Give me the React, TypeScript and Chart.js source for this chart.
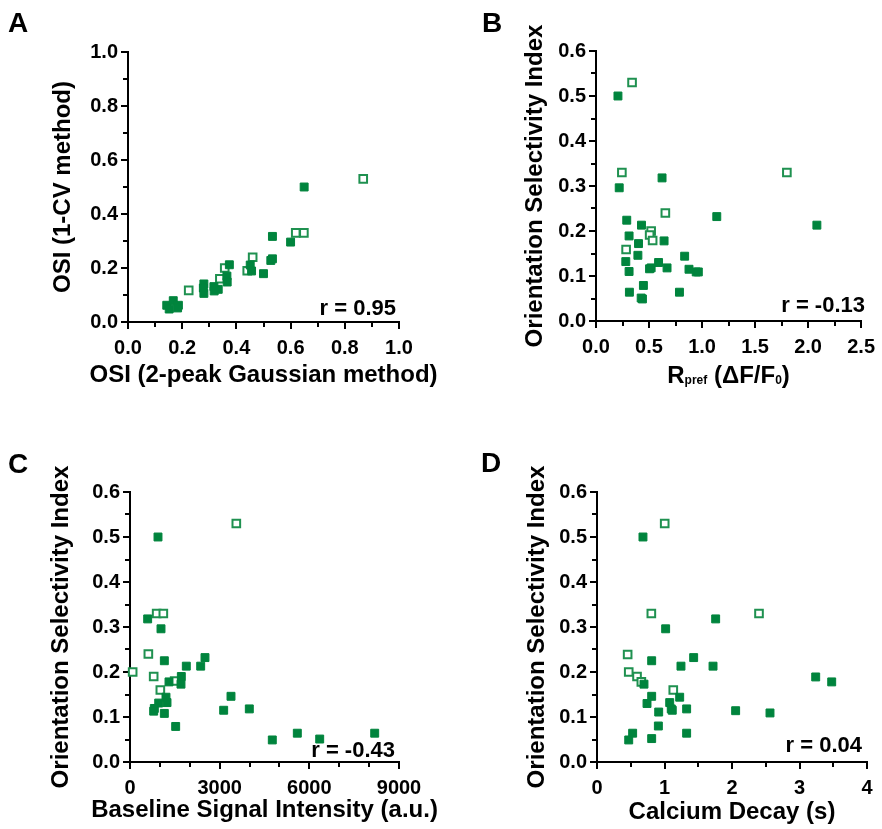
import React, { useEffect, useRef } from 'react';
import { Chart, registerables } from 'chart.js';

Chart.register(...registerables);

const FONT = '"Liberation Sans", Arial, Helvetica, sans-serif';
const GREEN = '#00843d';
const GREEN_OPEN = '#1f9150';

// ---------- Panel A ----------
const A_FILLED_X = [0.65, 0.533, 0.60, 0.527, 0.533, 0.50, 0.451, 0.456, 0.374, 0.365, 0.366, 0.333, 0.317, 0.318, 0.28, 0.278, 0.28, 0.143, 0.167, 0.186, 0.152, 0.183];
const A_FILLED_Y = [0.50, 0.317, 0.296, 0.228, 0.234, 0.179, 0.211, 0.189, 0.212, 0.170, 0.148, 0.121, 0.131, 0.115, 0.141, 0.126, 0.106, 0.062, 0.079, 0.062, 0.048, 0.052];
const A_OPEN_X = [0.868, 0.619, 0.649, 0.46, 0.44, 0.357, 0.339, 0.224];
const A_OPEN_Y = [0.53, 0.33, 0.33, 0.24, 0.19, 0.20, 0.16, 0.117];

// ---------- Panel B ----------
const B_FILLED_X = [0.207, 0.219, 0.623, 1.139, 2.083, 0.29, 0.429, 0.312, 0.401, 0.642, 0.281, 0.395, 0.312, 0.505, 0.52, 0.59, 0.67, 0.836, 0.877, 0.945, 0.965, 0.315, 0.447, 0.426, 0.438, 0.787];
const B_FILLED_Y = [0.50, 0.296, 0.318, 0.232, 0.213, 0.224, 0.213, 0.189, 0.172, 0.178, 0.132, 0.146, 0.11, 0.116, 0.118, 0.13, 0.118, 0.144, 0.115, 0.109, 0.109, 0.064, 0.079, 0.051, 0.049, 0.064];
const B_OPEN_X = [0.34, 0.244, 1.80, 0.654, 0.52, 0.506, 0.534, 0.284];
const B_OPEN_Y = [0.53, 0.33, 0.33, 0.24, 0.20, 0.191, 0.179, 0.159];

// ---------- Panel C ----------
const C_FILLED_X = [937, 591, 1037, 1149, 1884, 2365, 2509, 1717, 1706, 1305, 1204, 1238, 960, 814, 792, 1149, 1528, 3379, 3134, 3992, 4761, 5598, 6347, 8187];
const C_FILLED_Y = [0.50, 0.318, 0.296, 0.225, 0.213, 0.213, 0.232, 0.19, 0.173, 0.178, 0.144, 0.132, 0.131, 0.119, 0.113, 0.108, 0.079, 0.146, 0.115, 0.118, 0.049, 0.064, 0.051, 0.064];
const C_OPEN_X = [3557, 892, 1115, 614, 89, 792, 1494, 1015];
const C_OPEN_Y = [0.53, 0.33, 0.33, 0.24, 0.20, 0.19, 0.18, 0.16];

// ---------- Panel D ----------
const D_FILLED_X = [0.681, 1.758, 1.017, 1.432, 0.81, 1.244, 1.719, 3.24, 3.477, 0.696, 0.81, 1.225, 0.741, 1.077, 0.914, 1.1, 1.115, 1.328, 2.054, 2.563, 0.909, 0.528, 0.47, 0.81, 1.328];
const D_FILLED_Y = [0.50, 0.318, 0.296, 0.232, 0.225, 0.213, 0.213, 0.189, 0.178, 0.173, 0.146, 0.144, 0.13, 0.132, 0.111, 0.118, 0.115, 0.118, 0.114, 0.109, 0.08, 0.064, 0.049, 0.052, 0.064];
const D_OPEN_X = [1.003, 0.805, 2.4, 0.454, 0.47, 0.593, 0.657, 1.13];
const D_OPEN_Y = [0.53, 0.33, 0.33, 0.239, 0.20, 0.19, 0.178, 0.16];

// ---------- Labels ----------
const LETTERS = ['A', 'B', 'C', 'D'];
const X_TITLES = ['OSI (2-peak Gaussian method)', '', 'Baseline Signal Intensity (a.u.)', 'Calcium Decay (s)'];
const Y_TITLES = ['OSI (1-CV method)', 'Orientation Selectivity Index', 'Orientation Selectivity Index', 'Orientation Selectivity Index'];
const R_LABELS = ['r = 0.95', 'r = -0.13', 'r = -0.43', 'r = 0.04'];

const fmt1 = (v: number) => v.toFixed(1);
const fmt0 = (v: number) => String(Math.round(v));

type Axis = { min: number; max: number; step: number; minor: number; fmt: (v: number) => string };
type Panel = {
  idx: number;
  ox: number; oy: number; w: number; h: number;
  area: { l: number; t: number; r: number; b: number };
  x: Axis; y: Axis;
  yTitleX: number; xTitleBase: number;
  rRight: number; rBase: number;
  letterX: number; letterBase: number;
  filled: { x: number[]; y: number[] };
  open: { x: number[]; y: number[] };
  rich?: boolean;
};

const OSI_AXIS: Axis = { min: 0, max: 0.6, step: 0.1, minor: 0.05, fmt: fmt1 };

const PANELS: Panel[] = [
  {
    idx: 0, ox: 0, oy: 0, w: 441, h: 414,
    area: { l: 128, t: 52, r: 399, b: 322 },
    x: { min: 0, max: 1, step: 0.2, minor: 0.1, fmt: fmt1 },
    y: { min: 0, max: 1, step: 0.2, minor: 0.1, fmt: fmt1 },
    yTitleX: 63, xTitleBase: 382, rRight: 396, rBase: 315, letterX: 8, letterBase: 32,
    filled: { x: A_FILLED_X, y: A_FILLED_Y }, open: { x: A_OPEN_X, y: A_OPEN_Y },
  },
  {
    idx: 1, ox: 441, oy: 0, w: 441, h: 414,
    area: { l: 596, t: 51, r: 866, b: 321 },
    x: { min: 0, max: 2.5, step: 0.5, minor: 0.25, fmt: fmt1 },
    y: OSI_AXIS,
    yTitleX: 535, xTitleBase: 383, rRight: 865, rBase: 312, letterX: 482, letterBase: 32,
    filled: { x: B_FILLED_X, y: B_FILLED_Y }, open: { x: B_OPEN_X, y: B_OPEN_Y }, rich: true,
  },
  {
    idx: 2, ox: 0, oy: 414, w: 441, h: 415,
    area: { l: 130, t: 492, r: 399, b: 762 },
    x: { min: 0, max: 9000, step: 3000, minor: 1000, fmt: fmt0 },
    y: OSI_AXIS,
    yTitleX: 61, xTitleBase: 817, rRight: 395, rBase: 757, letterX: 8, letterBase: 473,
    filled: { x: C_FILLED_X, y: C_FILLED_Y }, open: { x: C_OPEN_X, y: C_OPEN_Y },
  },
  {
    idx: 3, ox: 441, oy: 414, w: 441, h: 415,
    area: { l: 597, t: 492, r: 867, b: 762 },
    x: { min: 0, max: 4, step: 1, minor: 0.5, fmt: fmt0 },
    y: OSI_AXIS,
    yTitleX: 537, xTitleBase: 819, rRight: 862, rBase: 752, letterX: 481, letterBase: 472,
    filled: { x: D_FILLED_X, y: D_FILLED_Y }, open: { x: D_OPEN_X, y: D_OPEN_Y },
  },
];

const TITLE_SIZE = 24;
const TITLE_LH = TITLE_SIZE * 1.2;
const TICK_SIZE = 20;

function toPoints(xs: number[], ys: number[]) {
  return xs.map((x, i) => ({ x, y: ys[i] }));
}

function makeConfig(p: Panel): any {
  const extras = {
    id: 'extras' + p.idx,
    afterDraw(chart: any) {
      const ctx = chart.ctx as CanvasRenderingContext2D;
      const { left, right, bottom } = chart.chartArea;
      const xs = chart.scales.x;
      const ys = chart.scales.y;
      ctx.save();
      ctx.strokeStyle = '#000';
      ctx.lineWidth = 2;
      // minor ticks x
      {
        const n = Math.round((p.x.max - p.x.min) / p.x.minor);
        const ratio = Math.round(p.x.step / p.x.minor);
        for (let i = 0; i <= n; i++) {
          if (i % ratio === 0) continue;
          const px = Math.round(xs.getPixelForValue(p.x.min + i * p.x.minor));
          ctx.beginPath();
          ctx.moveTo(px, bottom);
          ctx.lineTo(px, bottom + 5);
          ctx.stroke();
        }
      }
      // minor ticks y
      {
        const n = Math.round((p.y.max - p.y.min) / p.y.minor);
        const ratio = Math.round(p.y.step / p.y.minor);
        for (let i = 0; i <= n; i++) {
          if (i % ratio === 0) continue;
          const py = Math.round(ys.getPixelForValue(p.y.min + i * p.y.minor));
          ctx.beginPath();
          ctx.moveTo(left, py);
          ctx.lineTo(left - 5, py);
          ctx.stroke();
        }
      }
      ctx.fillStyle = '#000';
      ctx.textBaseline = 'alphabetic';
      // correlation label
      ctx.font = `bold 22px ${FONT}`;
      ctx.textAlign = 'right';
      ctx.fillText(R_LABELS[p.idx], p.rRight - p.ox, p.rBase - p.oy);
      // panel letter
      ctx.font = `bold 28px ${FONT}`;
      ctx.textAlign = 'left';
      ctx.fillText(LETTERS[p.idx], p.letterX - p.ox, p.letterBase - p.oy);
      // x title
      const cx = (left + right) / 2;
      const by = p.xTitleBase - p.oy;
      if (p.rich) {
        const parts = [
          { t: 'R', s: 24, dy: 0 },
          { t: 'pref', s: 12, dy: 1 },
          { t: ' (\u0394F/F', s: 24, dy: 0 },
          { t: '0', s: 12, dy: 1 },
          { t: ')', s: 24, dy: 0 },
        ];
        let total = 0;
        const widths = parts.map((pt) => {
          ctx.font = `bold ${pt.s}px ${FONT}`;
          const wd = ctx.measureText(pt.t).width;
          total += wd;
          return wd;
        });
        let x = cx - total / 2;
        ctx.textAlign = 'left';
        parts.forEach((pt, i) => {
          ctx.font = `bold ${pt.s}px ${FONT}`;
          ctx.fillText(pt.t, x, by + pt.dy);
          x += widths[i];
        });
      } else {
        ctx.font = `bold ${TITLE_SIZE}px ${FONT}`;
        ctx.textAlign = 'center';
        ctx.fillText(X_TITLES[p.idx], cx, by);
      }
      ctx.restore();
    },
  };

  const tickFont = { family: FONT, size: TICK_SIZE, weight: 'bold' as const };
  const titleFont = { family: FONT, size: TITLE_SIZE, weight: 'bold' as const };
  const gridOpts = { display: true, drawOnChartArea: false, drawTicks: true, tickLength: 7, lineWidth: 2, color: '#000' };
  const borderOpts = { display: true, width: 2, color: '#000' };
  const xH = p.oy + p.h - p.area.b;
  const yW = p.area.l - p.ox;

  return {
    type: 'scatter',
    data: {
      datasets: [
        {
          label: 'filled',
          data: toPoints(p.filled.x, p.filled.y),
          pointStyle: 'rect',
          pointRadius: 5.6,
          pointBorderWidth: 1,
          pointBackgroundColor: GREEN,
          pointBorderColor: GREEN,
          backgroundColor: GREEN,
          borderColor: GREEN,
          showLine: false,
          clip: false,
        },
        {
          label: 'open',
          data: toPoints(p.open.x, p.open.y),
          pointStyle: 'rect',
          pointRadius: 5.4,
          pointBorderWidth: 2,
          pointBackgroundColor: '#ffffff',
          pointBorderColor: GREEN_OPEN,
          backgroundColor: '#ffffff',
          borderColor: GREEN_OPEN,
          showLine: false,
          clip: false,
        },
      ],
    },
    options: {
      responsive: false,
      animation: false,
      events: [],
      layout: { padding: { left: 0, top: p.area.t - p.oy, right: p.ox + p.w - p.area.r, bottom: 0 } },
      plugins: { legend: { display: false }, tooltip: { enabled: false } },
      scales: {
        x: {
          type: 'linear',
          position: 'bottom',
          min: p.x.min,
          max: p.x.max,
          afterFit: (s: any) => { s.height = xH; },
          ticks: {
            stepSize: p.x.step,
            autoSkip: false,
            maxRotation: 0,
            padding: 7,
            color: '#000',
            font: tickFont,
            callback: (v: any) => p.x.fmt(Number(v)),
          },
          grid: gridOpts,
          border: borderOpts,
          title: { display: false },
        },
        y: {
          type: 'linear',
          position: 'left',
          min: p.y.min,
          max: p.y.max,
          afterFit: (s: any) => { s.width = yW; },
          ticks: {
            stepSize: p.y.step,
            autoSkip: false,
            padding: 3,
            color: '#000',
            font: tickFont,
            callback: (v: any) => p.y.fmt(Number(v)),
          },
          grid: gridOpts,
          border: borderOpts,
          title: {
            display: true,
            text: Y_TITLES[p.idx],
            color: '#000',
            font: titleFont,
            padding: { top: p.yTitleX - p.ox - TITLE_LH / 2, bottom: 0 },
          },
        },
      },
    },
    plugins: [extras],
  };
}

function PanelChart({ p }: { p: Panel }) {
  const ref = useRef<HTMLCanvasElement>(null);
  useEffect(() => {
    if (!ref.current) return;
    const chart = new Chart(ref.current, makeConfig(p));
    return () => chart.destroy();
  }, [p]);
  return (
    <canvas
      ref={ref}
      width={p.w}
      height={p.h}
      style={{ position: 'absolute', left: p.ox, top: p.oy, width: p.w, height: p.h }}
    />
  );
}

export default function App() {
  return (
    <div style={{ position: 'absolute', left: 0, top: 0, width: 882, height: 829, background: '#fff', overflow: 'hidden' }}>
      {PANELS.map((p) => (
        <PanelChart key={p.idx} p={p} />
      ))}
    </div>
  );
}
